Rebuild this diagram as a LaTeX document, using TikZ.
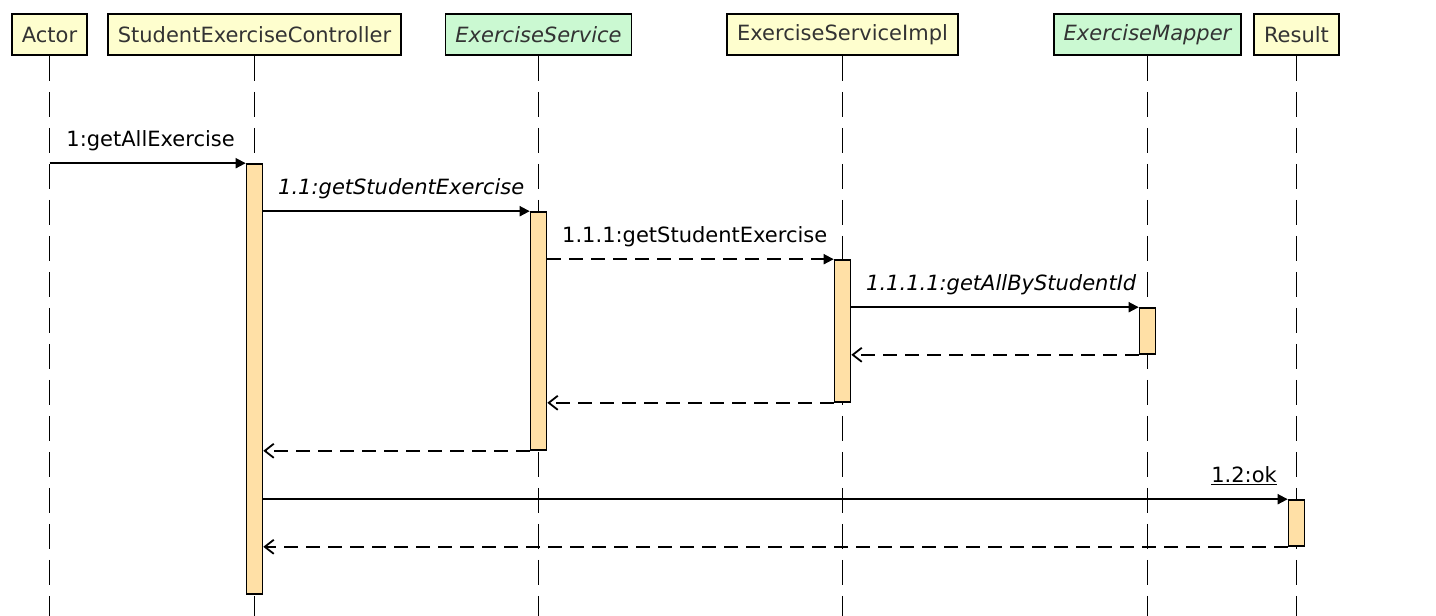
\documentclass[tikz,border=0pt]{standalone}
\usepackage{fontspec}
\setmainfont{DejaVu Sans}
\usetikzlibrary{arrows.meta}
\definecolor{hdrYellow}{HTML}{FEFECE}
\definecolor{hdrGreen}{HTML}{CBF9D2}
\definecolor{barOrange}{HTML}{FFE0A6}
\definecolor{hdrText}{HTML}{333333}
\begin{document}
\begin{tikzpicture}[x=1pt, y=-1pt,
        head/.style={draw=black, line width=1.8pt, fill=hdrYellow, text=hdrText, minimum height=41pt, inner xsep=10pt, inner ysep=0pt, font=\fontsize{21}{26}\selectfont},
        iface/.style={head, fill=hdrGreen, font=\fontsize{21}{26}\selectfont\itshape},
        life/.style={line width=1.8pt, dash pattern=on 25pt off 11pt},
        bar/.style={draw=black, line width=1.6pt, fill=barOrange, minimum width=16pt, inner sep=0pt},
        call/.style={line width=1.8pt, -{Triangle[length=10pt, width=10pt]}},
        reply/.style={line width=1.8pt, dash pattern=on 14pt off 8pt, -{Straight Barb[length=9pt, width=14pt]}},
        lbl/.style={font=\fontsize{21}{26}\selectfont, text=black, inner sep=0pt}]
        \useasboundingbox (0, 0) rectangle (1436, 616);

        \node[head] (actor) at (49.5, 34.5) {Actor};
        \node[head] (ctrl) at (254.5, 34.5) {StudentExerciseController};
        \node[iface] (svc) at (538.5, 34.5) {ExerciseService};
        \node[head] (impl) at (842.5, 34.5) {ExerciseServiceImpl};
        \node[iface] (mapper) at (1147.5, 34.5) {ExerciseMapper};
        \node[head] (result) at (1296.5, 34.5) {Result};

        \coordinate (bottom) at (0, 616);
        \foreach \p in {actor, ctrl, svc, impl, mapper, result}
            \draw[life] (\p.south) -- (\p.south |- bottom);

        \node[bar, minimum height=430pt] (barCtrl) at (ctrl.south |- 0, 379) {};
        \node[bar, minimum height=238pt] (barSvc) at (svc.south |- 0, 331) {};
        \node[bar, minimum height=142pt] (barImpl) at (impl.south |- 0, 331) {};
        \node[bar, minimum height=46pt] (barMap) at (mapper.south |- 0, 331) {};
        \node[bar, minimum height=46pt] (barRes) at (result.south |- 0, 523) {};

        \draw[call] (actor.south |- barCtrl.north) -- node[lbl, at start, anchor=base west, xshift=16pt, yshift=17pt] {1:getAllExercise} (barCtrl.north west);
        \draw[call] (barCtrl.east |- barSvc.north) -- node[lbl, at start, anchor=base west, xshift=14pt, yshift=17pt] {\itshape 1.1:getStudentExercise} (barSvc.north west);
        \draw[call, dash pattern=on 14pt off 8pt] (barSvc.east |- barImpl.north) -- node[lbl, at start, anchor=base west, xshift=14pt, yshift=17pt] {1.1.1:getStudentExercise} (barImpl.north west);
        \draw[call] (barImpl.east |- barMap.north) -- node[lbl, at start, anchor=base west, xshift=14pt, yshift=17pt] {\itshape 1.1.1.1:getAllByStudentId} (barMap.north west);
        \draw[reply] (barMap.south west) -- (barImpl.east |- barMap.south);
        \draw[reply] (barImpl.south west) -- (barSvc.east |- barImpl.south);
        \draw[reply] (barSvc.south west) -- (barCtrl.east |- barSvc.south);
        \draw[call] (barCtrl.east |- barRes.north) -- node[lbl, at end, anchor=base east, xshift=-10pt, yshift=17pt] {\underline{1.2:ok}} (barRes.north west);
        \draw[reply] (barRes.south west) -- (barCtrl.east |- barRes.south);
\end{tikzpicture}
\end{document}
